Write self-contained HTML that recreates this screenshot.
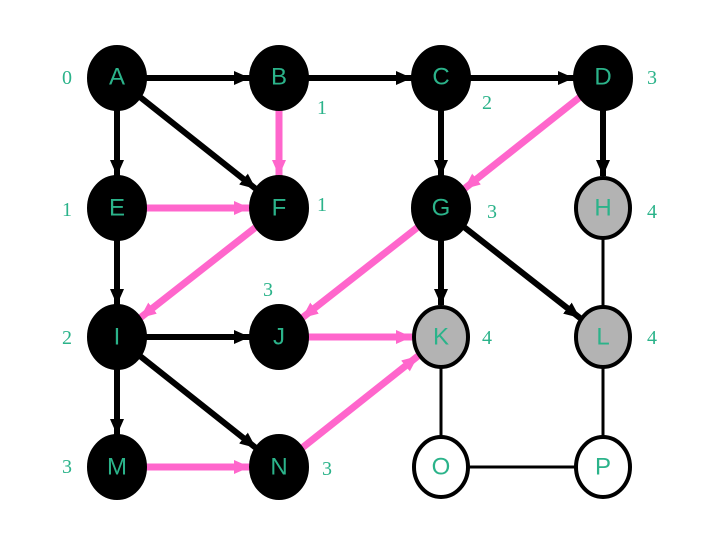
<!DOCTYPE html>
<html><head><meta charset="utf-8"><style>
html,body{margin:0;padding:0;background:#fff;}
svg{display:block;}
.l{font-family:"Liberation Sans",sans-serif;font-size:24px;fill:#2bb38a;text-anchor:middle;dominant-baseline:central;}
.n{font-family:"Liberation Serif",serif;font-size:20px;fill:#2bb38a;text-anchor:middle;dominant-baseline:central;}
</style></head><body>
<svg width="720" height="540" viewBox="0 0 720 540" xmlns="http://www.w3.org/2000/svg">
<defs>
<marker id="ab" markerUnits="userSpaceOnUse" markerWidth="18" markerHeight="16" refX="16" refY="7" orient="auto"><path d="M0,0 L16,7 L0,14 z" fill="#000"/></marker>
<marker id="ap" markerUnits="userSpaceOnUse" markerWidth="18" markerHeight="16" refX="16" refY="7" orient="auto"><path d="M0,0 L16,7 L0,14 z" fill="#ff66cc"/></marker>
</defs>
<g stroke="#000" stroke-width="3">
<line x1="603" y1="208" x2="603" y2="337"/>
<line x1="441" y1="337" x2="441" y2="467"/>
<line x1="603" y1="337" x2="603" y2="467"/>
<line x1="441" y1="467" x2="603" y2="467"/>
</g>
<g stroke="#000" stroke-width="6" marker-end="url(#ab)">
<line x1="146" y1="78" x2="250" y2="78"/>
<line x1="308" y1="78" x2="412" y2="78"/>
<line x1="470" y1="78" x2="574" y2="78"/>
<line x1="117" y1="110" x2="117" y2="176"/>
<line x1="441" y1="110" x2="441" y2="176"/>
<line x1="603" y1="110" x2="603" y2="176"/>
<line x1="117" y1="240" x2="117" y2="305"/>
<line x1="441" y1="240" x2="441" y2="305"/>
<line x1="117" y1="369" x2="117" y2="435"/>
<line x1="146" y1="337" x2="250" y2="337"/>
<line x1="140" y1="97" x2="256" y2="189"/>
<line x1="464" y1="227" x2="580" y2="318"/>
<line x1="140" y1="356" x2="256" y2="448"/>
</g>
<g stroke="#ff66cc" stroke-width="7" marker-end="url(#ap)">
<line x1="279" y1="110" x2="279" y2="176"/>
<line x1="146" y1="208" x2="250" y2="208"/>
<line x1="580" y1="97" x2="464" y2="189"/>
<line x1="256" y1="227" x2="140" y2="318"/>
<line x1="418" y1="227" x2="302" y2="318"/>
<line x1="308" y1="337" x2="412" y2="337"/>
<line x1="146" y1="467" x2="250" y2="467"/>
<line x1="302" y1="448" x2="418" y2="356"/>
</g>
<g stroke="#000" stroke-width="4">
<ellipse cx="117" cy="78" rx="28" ry="31" fill="#000"/>
<ellipse cx="279" cy="78" rx="28" ry="31" fill="#000"/>
<ellipse cx="441" cy="78" rx="28" ry="31" fill="#000"/>
<ellipse cx="603" cy="78" rx="28" ry="31" fill="#000"/>
<ellipse cx="117" cy="208" rx="28" ry="31" fill="#000"/>
<ellipse cx="279" cy="208" rx="28" ry="31" fill="#000"/>
<ellipse cx="441" cy="208" rx="28" ry="31" fill="#000"/>
<ellipse cx="603" cy="208" rx="27" ry="30" fill="#b3b3b3"/>
<ellipse cx="117" cy="337" rx="28" ry="31" fill="#000"/>
<ellipse cx="279" cy="337" rx="28" ry="31" fill="#000"/>
<ellipse cx="441" cy="337" rx="27" ry="30" fill="#b3b3b3"/>
<ellipse cx="603" cy="337" rx="27" ry="30" fill="#b3b3b3"/>
<ellipse cx="117" cy="467" rx="28" ry="31" fill="#000"/>
<ellipse cx="279" cy="467" rx="28" ry="31" fill="#000"/>
<ellipse cx="441" cy="467" rx="27" ry="30" fill="#fff"/>
<ellipse cx="603" cy="467" rx="27" ry="30" fill="#fff"/>
</g>
<text class="l" x="117" y="77">A</text>
<text class="l" x="279" y="77">B</text>
<text class="l" x="441" y="77">C</text>
<text class="l" x="603" y="77">D</text>
<text class="l" x="117" y="208">E</text>
<text class="l" x="279" y="208">F</text>
<text class="l" x="441" y="208">G</text>
<text class="l" x="603" y="208">H</text>
<text class="l" x="117" y="337">I</text>
<text class="l" x="279" y="337">J</text>
<text class="l" x="441" y="337">K</text>
<text class="l" x="603" y="337">L</text>
<text class="l" x="117" y="467">M</text>
<text class="l" x="279" y="467">N</text>
<text class="l" x="441" y="467">O</text>
<text class="l" x="603" y="467">P</text>
<text class="n" x="67" y="78">0</text>
<text class="n" x="322" y="108">1</text>
<text class="n" x="487" y="103">2</text>
<text class="n" x="652" y="78">3</text>
<text class="n" x="67" y="210">1</text>
<text class="n" x="322" y="205">1</text>
<text class="n" x="492" y="212">3</text>
<text class="n" x="652" y="212">4</text>
<text class="n" x="268" y="290">3</text>
<text class="n" x="67" y="338">2</text>
<text class="n" x="487" y="338">4</text>
<text class="n" x="652" y="338">4</text>
<text class="n" x="67" y="467">3</text>
<text class="n" x="327" y="469">3</text>
</svg>
</body></html>
